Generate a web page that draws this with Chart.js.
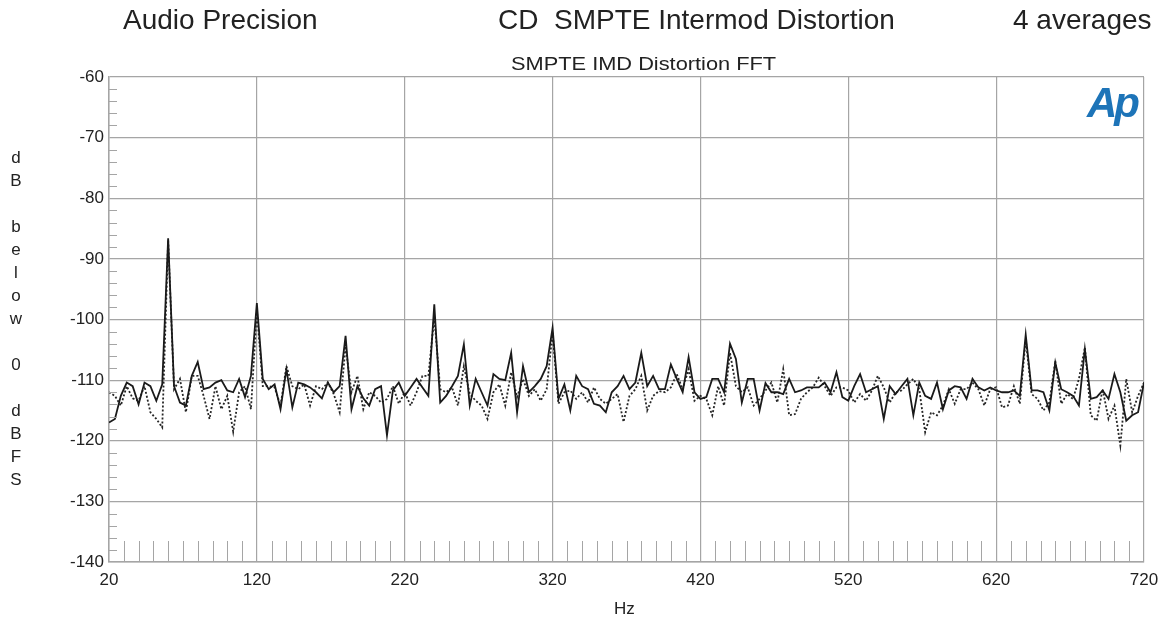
<!DOCTYPE html>
<html>
<head>
<meta charset="utf-8">
<script src="https://cdn.jsdelivr.net/npm/chart.js@4.4.1/dist/chart.umd.min.js"></script>
<style>
  body { margin: 0; background: #fff; }
  #wrap { position: relative; width: 1162px; height: 618px; font-family: "Liberation Sans", Arial, sans-serif; color: #222; }
  #c { position: absolute; left: 0; top: 0; }
  .t { position: absolute; white-space: pre; line-height: 1; transform-origin: left center; }
  #ylab { position: absolute; left: 8px; top: 146px; width: 16px; text-align: center; font-size: 17px; line-height: 23px; }
  #logo { position: absolute; left: 1087px; top: 82px; font-size: 42px; font-weight: bold; font-style: italic; color: #1d74b8; letter-spacing: -3px; line-height: 1; }
</style>
</head>
<body>
<div id="wrap">
  <canvas id="c" width="1162" height="618"></canvas>
  <div class="t" style="left:123px;top:6px;font-size:28px;">Audio Precision</div>
  <div class="t" style="left:498px;top:6px;font-size:28px;">CD  SMPTE Intermod Distortion</div>
  <div class="t" style="left:1013px;top:6px;font-size:28px;">4 averages</div>
  <div class="t" style="left:511px;top:54px;font-size:19px;transform:scaleX(1.147);">SMPTE IMD Distortion FFT</div>
  <div class="t" style="left:614px;top:600px;font-size:17px;">Hz</div>
  <div id="ylab">d<br>B<br><br>b<br>e<br>l<br>o<br>w<br><br>0<br><br>d<br>B<br>F<br>S</div>
  <div id="logo">Ap</div>
</div>
<script>
// FFT bins, 4 Hz apart, 20 .. 720 Hz
const hz = [];
for (let f = 20; f <= 720; f += 4) hz.push(f);

// solid trace (dB below 0 dBFS), 10 bins per row
const solid = [
  -117, -116.4, -112.6, -110.4, -111, -114, -110.4, -111, -113.4, -110.7,        // 20
  -86.6, -111, -113.7, -114.2, -109.3, -107, -111.5, -111.2, -110.4, -110,       // 60
  -111.7, -112, -109.8, -112.8, -109.3, -97.3, -109.8, -111.5, -110.7, -114.8,   // 100
  -108.2, -114.5, -110.4, -110.7, -111.2, -112, -113, -110.4, -112, -111,        // 140
  -102.7, -114.8, -111, -113, -114.2, -111.5, -111, -119.1, -111.7, -110.4,      // 180
  -112.6, -111.2, -109.8, -111.2, -112.6, -97.5, -113.7, -112.6, -111, -109.3,   // 220
  -104.1, -114.2, -109.8, -112, -114.2, -109, -109.8, -110, -105.5, -115.3,      // 260
  -107.7, -112, -111, -109.8, -107.7, -101.4, -113.1, -110.7, -115, -109.3,      // 300
  -111, -111.5, -113.9, -114.2, -115.3, -112, -111, -109.3, -111.5, -110.4,      // 340
  -105.5, -111, -109.3, -111.5, -111.5, -107.4, -109.8, -112, -106.2, -112,      // 380
  -113.1, -112.8, -109.8, -109.8, -112, -104, -106.5, -113.7, -109.8, -109.8,    // 420
  -115, -110.5, -112, -112, -112.3, -109.8, -112, -111.7, -111.2, -111.2,        // 460
  -111.2, -110.4, -112, -108.7, -112.8, -113.4, -111, -109, -112, -111.5,        // 500
  -111, -116.4, -111, -112.3, -111, -109.8, -115.8, -110.4, -112.6, -113.1,      // 540
  -110.4, -114.8, -111.7, -111, -111.2, -113.1, -109.8, -111.2, -111.7, -111.2,  // 580
  -111.7, -112, -112, -111.7, -112.6, -102.5, -111.7, -111.7, -112, -115,        // 620
  -107.1, -111.5, -112, -112.6, -114.2, -104.9, -113.1, -112.8, -111.7, -113.1,  // 660
  -109, -112, -116.7, -115.8, -115.3, -110.4                                     // 700
];

// dotted trace
const dotted = [
  -112, -112.6, -114.2, -111, -113, -113.4, -111, -115.3, -116.4, -117.8,        // 20
  -86.9, -111.5, -109.8, -115.3, -109.3, -109.3, -112.6, -116.4, -111, -114.8,   // 60
  -112.6, -118.5, -112, -111, -114.8, -98.5, -111, -111, -111.2, -114.2,         // 100
  -107.7, -111, -111.5, -110.7, -114.2, -111, -111.5, -110.4, -112.3, -115.3,    // 140
  -104.4, -112, -109.3, -114.8, -112, -112.6, -113.7, -113.1, -111, -113.9,      // 180
  -112, -114.2, -112, -109.3, -109.3, -99.5, -111.5, -112, -111.2, -114.2,       // 220
  -107.7, -112.3, -113.4, -114.2, -116.4, -112, -110.7, -114.2, -108.7, -112.8,  // 260
  -109.8, -112.6, -111.5, -113.4, -111.5, -102.2, -113.9, -112, -111.7, -113.1,  // 300
  -112, -113.7, -111.2, -113.1, -113.9, -113.1, -112.3, -116.9, -112.6, -111.5,  // 340
  -109.3, -115, -112.6, -111.8, -112, -111.2, -109, -111.5, -108.2, -113.4,      // 380
  -112.6, -113.1, -115.8, -111, -114.2, -105.5, -111, -112, -111.2, -114.2,      // 420
  -113.1, -111.7, -110.4, -113.7, -108.2, -115.8, -115.6, -113.1, -112, -111.2,  // 460
  -109.6, -111, -112.6, -111.2, -111.2, -111.7, -113.7, -112.3, -113.4, -111.7,  // 500
  -109.3, -111.2, -113.7, -112, -111.7, -110.7, -109.8, -111.5, -118.6, -115.3,  // 540
  -115.8, -114.2, -111.5, -113.9, -111.5, -111.5, -110.4, -111.5, -114.2, -111.5,// 580
  -111.2, -114.5, -114.2, -111, -113.9, -103.3, -112.3, -113.1, -115, -113.7,    // 620
  -106.8, -113.9, -112.3, -113.1, -109.8, -104.6, -115.8, -116.7, -111.5, -116.4,// 660
  -114.2, -120.8, -109.8, -115.3, -112.6, -110.4                                 // 700
];

const xTicks = [20, 120, 220, 320, 420, 520, 620, 720];
const yMin = -140, yMax = -60;

const gridCol = 'rgb(165,165,165)';

// little inside ticks: 2 dB on the left, 10 Hz comb along the bottom
const minorTicks = {
  id: 'minorTicks',
  afterDraw(chart) {
    const ctx = chart.ctx, a = chart.chartArea;
    const xs = chart.scales.x, ys = chart.scales.y;
    ctx.save();
    ctx.strokeStyle = gridCol;
    ctx.lineWidth = 1;
    ctx.beginPath();
    for (let v = yMin + 2; v < yMax; v += 2) {
      if (v % 10 === 0) continue;
      const py = Math.round(ys.getPixelForValue(v)) + 0.5;
      ctx.moveTo(a.left, py);
      ctx.lineTo(a.left + 8, py);
    }
    for (let f = 30; f < 720; f += 10) {
      if ((f - 20) % 100 === 0) continue;
      const px = Math.round(xs.getPixelForValue(f)) + 0.5;
      ctx.moveTo(px, a.bottom);
      ctx.lineTo(px, a.bottom - 21);
    }
    ctx.stroke();
    ctx.restore();
  }
};

new Chart(document.getElementById('c'), {
  type: 'line',
  data: {
    datasets: [
      {
        label: 'solid',
        data: hz.map((f, i) => ({ x: f, y: solid[i] })),
        borderColor: '#1a1a1a',
        borderWidth: 1.8,
        pointRadius: 0,
        order: 0
      },
      {
        label: 'dotted',
        data: hz.map((f, i) => ({ x: f, y: dotted[i] })),
        borderColor: '#262626',
        borderWidth: 1.8,
        borderDash: [2, 2],
        pointRadius: 0,
        order: 1
      }
    ]
  },
  options: {
    responsive: false,
    animation: false,
    devicePixelRatio: 1,
    layout: { padding: { left: 30, right: 18, top: 77, bottom: 0 } },
    plugins: { legend: { display: false }, tooltip: { enabled: false } },
    scales: {
      x: {
        type: 'linear',
        min: 20,
        max: 720,
        afterBuildTicks: s => { s.ticks = xTicks.map(v => ({ value: v })); },
        afterFit: s => { s.height = 56; s.paddingLeft = 0; s.paddingRight = 0; },
        grid: { color: gridCol, lineWidth: 1.2, drawTicks: false },
        border: { color: gridCol, width: 1.5 },
        ticks: { color: '#222', font: { family: 'Liberation Sans', size: 17 }, padding: 8, maxRotation: 0 }
      },
      y: {
        min: yMin,
        max: yMax,
        afterFit: s => { s.width = 79; s.paddingTop = 0; s.paddingBottom = 0; },
        grid: { color: gridCol, lineWidth: 1.2, drawTicks: false },
        border: { color: gridCol, width: 1.5 },
        ticks: { stepSize: 10, color: '#222', font: { family: 'Liberation Sans', size: 17 }, padding: 5 }
      }
    }
  },
  plugins: [minorTicks]
});
</script>
</body>
</html>
